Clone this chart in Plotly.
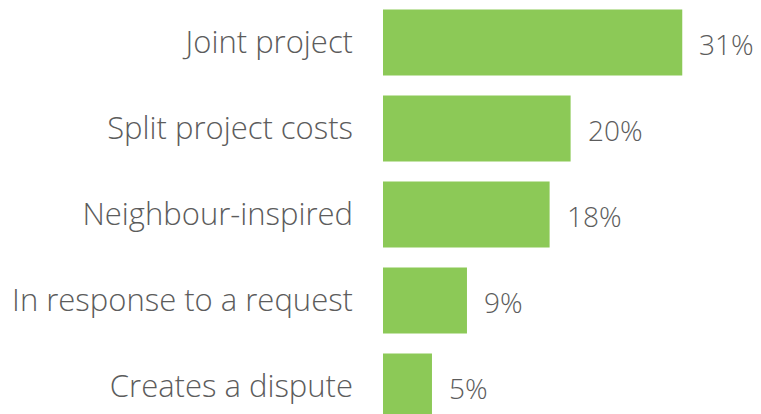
import plotly.graph_objects as go

categories = ["Joint project", "Split project costs", "Neighbour-inspired",
              "In response to a request", "Creates a dispute"]
values = [31.47, 19.73, 17.52, 8.83, 5.15]
labels = [f"{round(v)}%" for v in values]

GREEN = "#8cc957"
GRAY = "#5c5c5c"
FONT = "Open Sans"
SIZE = 31
VSIZE = 28

fig = go.Figure()
fig.add_trace(go.Bar(
    x=values, y=categories, orientation="h",
    marker=dict(color=GREEN, line=dict(width=0)),
    hoverinfo="skip",
))

for c, v, t in zip(categories, values, labels):
    fig.add_annotation(x=v, y=c, text=t, xanchor="left", yanchor="middle",
                       xshift=15, yshift=-2, showarrow=False,
                       font=dict(family=FONT, size=VSIZE, color=GRAY, weight=300))

fig.update_layout(
    width=753, height=406,
    margin=dict(l=375, r=0, t=0, b=0),
    paper_bgcolor="white", plot_bgcolor="white",
    bargap=0.233, showlegend=False,
    font=dict(family=FONT, size=SIZE, color=GRAY, weight=300),
    xaxis=dict(range=[0, 39.75], visible=False, fixedrange=True),
    yaxis=dict(type="category", range=[4.32, -0.401], showgrid=False,
               zeroline=False, showline=False, ticks="",
               ticklabelstandoff=29,
               tickfont=dict(family=FONT, size=SIZE, color=GRAY, weight=300)),
)

fig.write_html("out.html")
